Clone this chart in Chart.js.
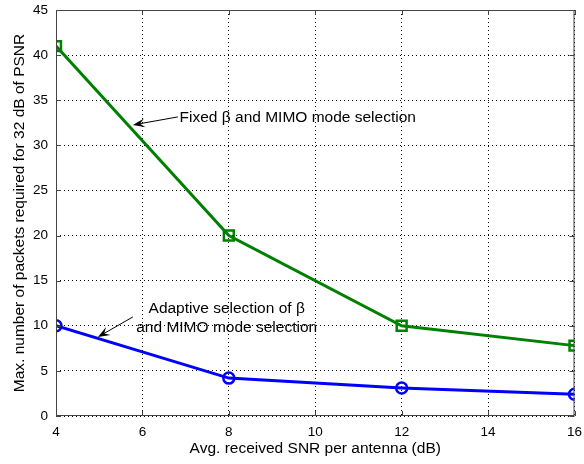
<!DOCTYPE html>
<html>
<head>
<meta charset="utf-8">
<script src="https://cdn.jsdelivr.net/npm/chart.js@4/dist/chart.umd.min.js"></script>
<style>
  html, body { margin: 0; padding: 0; background: #fff; }
  #wrap { width: 584px; height: 464px; }
</style>
</head>
<body>
<div id="wrap"><canvas id="snrChart" width="584" height="464"></canvas></div>
<script>
// ======================
// DATA
// ======================
const snrValues = [4, 8, 12, 16];
const fixedPackets = [41, 20, 10, 7.8];
const adaptivePackets = [10, 4.2, 3.1, 2.4];
const xTicks = [4, 6, 8, 10, 12, 14, 16];
const yTicks = [0, 5, 10, 15, 20, 25, 30, 35, 40, 45];

const FONT = '"Liberation Sans", Arial, Helvetica, sans-serif';

function toPoints(xs, ys) {
  return xs.map((x, i) => ({ x, y: ys[i] }));
}

// ======================
// ARROWS + TEXT (data coords)
// ======================
function drawArrow(ctx, x1, y1, x2, y2) {
  const ang = Math.atan2(y2 - y1, x2 - x1);
  const len = 12, wid = 4.5;
  const c = Math.cos(ang), s = Math.sin(ang);
  ctx.beginPath();
  ctx.moveTo(x1, y1);
  ctx.lineTo(x2 - c * 6, y2 - s * 6);
  ctx.stroke();
  ctx.beginPath();
  ctx.moveTo(x2, y2);
  ctx.lineTo(x2 - len * c + wid * s, y2 - len * s - wid * c);
  ctx.lineTo(x2 - len * c * 0.6, y2 - len * s * 0.6);
  ctx.lineTo(x2 - len * c - wid * s, y2 - len * s + wid * c);
  ctx.closePath();
  ctx.fill();
}

const notesPlugin = {
  id: 'notes',
  afterDatasetsDraw(chart) {
    const { ctx, scales: { x, y } } = chart;
    ctx.save();
    ctx.strokeStyle = '#000';
    ctx.fillStyle = '#000';
    ctx.lineWidth = 1;

    // fixed beta
    drawArrow(ctx, x.getPixelForValue(6.82), y.getPixelForValue(33.15),
                   x.getPixelForValue(5.78), y.getPixelForValue(32.26));
    ctx.font = '15.5px ' + FONT;
    ctx.textAlign = 'left';
    ctx.textBaseline = 'middle';
    ctx.fillText('Fixed \u03b2 and MIMO mode selection',
      x.getPixelForValue(6.86), y.getPixelForValue(33.05));

    // adaptive
    drawArrow(ctx, x.getPixelForValue(5.78), y.getPixelForValue(10.98),
                   x.getPixelForValue(4.97), y.getPixelForValue(8.76));
    ctx.textAlign = 'center';
    ctx.fillText('Adaptive selection of \u03b2',
      x.getPixelForValue(7.95), y.getPixelForValue(11.86));
    ctx.fillText('and MIMO mode selection',
      x.getPixelForValue(7.95), y.getPixelForValue(9.76));

    // frame + inward ticks
    const a = chart.chartArea;
    ctx.strokeStyle = '#444';
    ctx.strokeRect(a.left + 0.5, a.top + 0.5, a.right - a.left - 1, a.bottom - a.top - 1);
    ctx.beginPath();
    xTicks.forEach(v => {
      const px = Math.round(x.getPixelForValue(v)) + 0.5;
      ctx.moveTo(px, a.bottom); ctx.lineTo(px, a.bottom - 5);
      ctx.moveTo(px, a.top); ctx.lineTo(px, a.top + 5);
    });
    yTicks.forEach(v => {
      const py = Math.round(y.getPixelForValue(v)) + 0.5;
      ctx.moveTo(a.left, py); ctx.lineTo(a.left + 5, py);
      ctx.moveTo(a.right, py); ctx.lineTo(a.right - 5, py);
    });
    ctx.stroke();
    ctx.restore();
  }
};

// ======================
// CHART
// ======================
new Chart(document.getElementById('snrChart'), {
  type: 'line',
  data: {
    datasets: [
      {
        label: 'Fixed',
        data: toPoints(snrValues, fixedPackets),
        borderColor: '#008000',
        backgroundColor: 'rgba(0,0,0,0)',
        borderWidth: 3,
        pointStyle: 'rect',
        pointRadius: 7,
        pointBorderWidth: 2.5,
        tension: 0
      },
      {
        label: 'Adaptive',
        data: toPoints(snrValues, adaptivePackets),
        borderColor: '#0000ff',
        backgroundColor: 'rgba(0,0,0,0)',
        borderWidth: 3,
        pointStyle: 'circle',
        pointRadius: 5.5,
        pointBorderWidth: 2.5,
        tension: 0
      }
    ]
  },
  options: {
    responsive: false,
    animation: false,
    layout: { padding: { left: 0, right: 8, top: 10, bottom: 0 } },
    plugins: { legend: { display: false }, tooltip: { enabled: false } },
    scales: {
      x: {
        type: 'linear',
        min: 4, max: 16,
        afterBuildTicks: s => { s.ticks = xTicks.map(v => ({ value: v })); },
        afterFit: s => { s.height = 48; s.paddingLeft = 0; s.paddingRight = 0; },
        grid: { color: '#000', lineWidth: 1, drawTicks: false },
        border: { display: false, dash: [1, 3] },
        ticks: { color: '#000', font: { family: FONT, size: 13.5 }, padding: 8, maxRotation: 0 },
        title: { display: true, text: 'Avg. received SNR per antenna (dB)', color: '#000',
                 font: { family: FONT, size: 15.5 }, padding: { top: 0, bottom: 5.5 } }
      },
      y: {
        min: 0, max: 45,
        afterBuildTicks: s => { s.ticks = yTicks.map(v => ({ value: v })); },
        afterFit: s => { s.width = 56; s.paddingTop = 0; s.paddingBottom = 0; },
        grid: { color: '#000', lineWidth: 1, drawTicks: false },
        border: { display: false, dash: [1, 3] },
        ticks: { color: '#000', font: { family: FONT, size: 13.5 }, padding: 8 },
        title: { display: true, text: 'Max. number of packets required for 32 dB of PSNR', color: '#000',
                 font: { family: FONT, size: 15.5 }, padding: { top: 10, bottom: 0 } }
      }
    }
  },
  plugins: [notesPlugin]
});
</script>
</body>
</html>
